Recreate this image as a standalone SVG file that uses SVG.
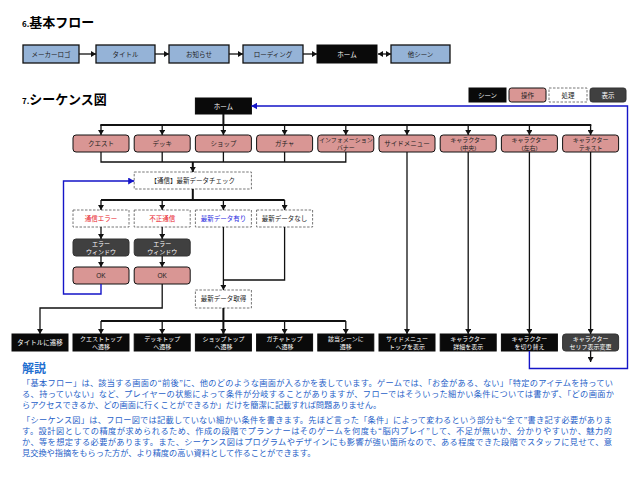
<svg xmlns="http://www.w3.org/2000/svg" width="638" height="479" viewBox="0 0 638 479">
<style>
text{font-family:"Noto Sans CJK JP","Noto Sans",sans-serif;}
.lbl,.wl{font-family:"Liberation Sans","Noto Sans CJK JP",sans-serif;font-size:6.5px;text-anchor:middle;}
.lbl{fill:#222;}
.wl{fill:#fff;}
.two{font-size:6px;}
.flow{fill:#95B3D7;stroke:#111;stroke-width:1.3;}
.scene{fill:#0a0a0a;stroke:#0a0a0a;stroke-width:1;}
.op{fill:#D99694;stroke:#111;stroke-width:1;}
.proc{fill:#fff;stroke:#666;stroke-width:0.9;stroke-dasharray:2.5,1.5;}
.disp{fill:#404040;stroke:#333;stroke-width:1;}
.ln{fill:none;stroke:#111;stroke-width:1.3;}
.thick{fill:none;stroke:#111;stroke-width:2;}
.blue{fill:none;stroke:#1515C8;stroke-width:1.4;}
.para{font-size:8.2px;fill:#1F5FC8;}
</style>
<defs>
<marker id="ah" markerUnits="userSpaceOnUse" markerWidth="6" markerHeight="6" refX="5" refY="3" orient="auto">
<path d="M0,0 L5,3 L0,6 Z" fill="#111"/>
</marker>
<marker id="ahs" markerUnits="userSpaceOnUse" markerWidth="6" markerHeight="6" refX="0" refY="3" orient="auto">
<path d="M5,0 L0,3 L5,6 Z" fill="#111"/>
</marker>
<marker id="ab" markerUnits="userSpaceOnUse" markerWidth="7" markerHeight="7" refX="6" refY="3.5" orient="auto">
<path d="M0,0 L6,3.5 L0,7 Z" fill="#1515C8"/>
</marker>
</defs>
<rect width="638" height="479" fill="#fff"/>

<!-- titles -->
<text x="22" y="27" font-size="13" font-weight="700" fill="#000"><tspan font-size="8">6.</tspan>基本フロー</text>
<text x="22" y="104" font-size="13" font-weight="700" fill="#000"><tspan font-size="8">7.</tspan>シーケンス図</text>

<!-- basic flow -->
<g id="flow-logo"><rect class="flow" x="23" y="45" width="56" height="18"/><text class="lbl" x="51" y="56.5">メーカーロゴ</text></g>
<g id="flow-title"><rect class="flow" x="96" y="45" width="59" height="18"/><text class="lbl" x="125.5" y="56.5">タイトル</text></g>
<g id="flow-news"><rect class="flow" x="169" y="45" width="60" height="18"/><text class="lbl" x="199" y="56.5">お知らせ</text></g>
<g id="flow-loading"><rect class="flow" x="243" y="45" width="60" height="18"/><text class="lbl" x="273" y="56.5">ローディング</text></g>
<g id="flow-home"><rect class="scene" x="317" y="45" width="60" height="18"/><text class="wl" x="347" y="56.5">ホーム</text></g>
<g id="flow-other"><rect class="flow" x="391" y="45" width="59" height="18"/><text class="lbl" x="420.5" y="56.5">他シーン</text></g>

<!-- legend -->
<g id="legend-scene"><rect class="scene" x="469" y="88" width="37" height="14"/><text class="wl" x="487.5" y="97.5">シーン</text></g>
<g id="legend-op"><rect class="op" x="509" y="88" width="37" height="14" rx="2.5"/><text class="lbl" x="527.5" y="97.5">操作</text></g>
<g id="legend-proc"><rect class="proc" x="549" y="88" width="38" height="14"/><text class="lbl" x="568" y="97.5">処理</text></g>
<g id="legend-disp"><rect class="disp" x="590" y="88" width="36" height="14" rx="2.5"/><text class="wl" x="608" y="97.5">表示</text></g>

<!-- sequence nodes -->
<g id="home"><rect class="scene" x="195.4" y="98" width="56" height="16"/><text class="wl" x="223.4" y="108.5">ホーム</text></g>

<g id="op-quest"><rect class="op" x="73" y="135" width="56" height="17" rx="3"/><text class="lbl" x="101" y="145.8">クエスト</text></g>
<g id="op-deck"><rect class="op" x="134.2" y="135" width="56" height="17" rx="3"/><text class="lbl" x="162.2" y="145.8">デッキ</text></g>
<g id="op-shop"><rect class="op" x="195.4" y="135" width="56" height="17" rx="3"/><text class="lbl" x="223.4" y="145.8">ショップ</text></g>
<g id="op-gacha"><rect class="op" x="256.6" y="135" width="56" height="17" rx="3"/><text class="lbl" x="284.6" y="145.8">ガチャ</text></g>
<g id="op-info"><rect class="op" x="317.8" y="135" width="56" height="17" rx="3"/><text class="lbl two" x="345.8" y="142.2">インフォメーション</text><text class="lbl two" x="345.8" y="149.6">バナー</text></g>
<g id="op-side"><rect class="op" x="379" y="135" width="56" height="17" rx="3"/><text class="lbl" x="407" y="145.8">サイドメニュー</text></g>
<g id="op-chara-c"><rect class="op" x="440.2" y="135" width="56" height="17" rx="3"/><text class="lbl two" x="468.2" y="142.2">キャラクター</text><text class="lbl two" x="468.2" y="149.6">(中央)</text></g>
<g id="op-chara-lr"><rect class="op" x="501.4" y="135" width="56" height="17" rx="3"/><text class="lbl two" x="529.4" y="142.2">キャラクター</text><text class="lbl two" x="529.4" y="149.6">(左右)</text></g>
<g id="op-chara-text"><rect class="op" x="562.6" y="135" width="56" height="17" rx="3"/><text class="lbl two" x="590.6" y="142.2">キャラクター</text><text class="lbl two" x="590.6" y="149.6">テキスト</text></g>

<g id="proc-check"><rect class="proc" x="134.2" y="172" width="117.2" height="17"/><text class="lbl" x="192.8" y="182.8">【通信】最新データチェック</text></g>

<g id="proc-err"><rect class="proc" x="73" y="210" width="56" height="17"/><text class="lbl" x="101" y="220.8" style="fill:#E8202A">通信エラー</text></g>
<g id="proc-illegal"><rect class="proc" x="134.2" y="210" width="56" height="17"/><text class="lbl" x="162.2" y="220.8" style="fill:#E8202A">不正通信</text></g>
<g id="proc-new"><rect class="proc" x="195.4" y="210" width="56" height="17"/><text class="lbl" x="223.4" y="220.8" style="fill:#2A2AE0">最新データ有り</text></g>
<g id="proc-nonew"><rect class="proc" x="256.6" y="210" width="56" height="17"/><text class="lbl" x="284.6" y="220.8">最新データなし</text></g>

<g id="disp-err1"><rect class="disp" x="73" y="239" width="56" height="17" rx="3"/><text class="wl two" x="101" y="246.2">エラー</text><text class="wl two" x="101" y="253.6">ウィンドウ</text></g>
<g id="disp-err2"><rect class="disp" x="134.2" y="239" width="56" height="17" rx="3"/><text class="wl two" x="162.2" y="246.2">エラー</text><text class="wl two" x="162.2" y="253.6">ウィンドウ</text></g>
<g id="op-ok1"><rect class="op" x="73" y="267" width="56" height="17" rx="3"/><text class="lbl" x="101" y="277.8">OK</text></g>
<g id="op-ok2"><rect class="op" x="134.2" y="267" width="56" height="17" rx="3"/><text class="lbl" x="162.2" y="277.8">OK</text></g>

<g id="proc-get"><rect class="proc" x="195.4" y="290" width="56" height="18"/><text class="lbl" x="223.4" y="301.3">最新データ取得</text></g>

<g id="scene-title"><rect class="scene" x="12" y="334" width="56" height="17"/><text class="wl" x="40" y="344.8">タイトルに遷移</text></g>
<g id="scene-quest"><rect class="scene" x="73" y="334" width="56" height="17"/><text class="wl two" x="101" y="341.2">クエストトップ</text><text class="wl two" x="101" y="348.6">へ遷移</text></g>
<g id="scene-deck"><rect class="scene" x="134.2" y="334" width="56" height="17"/><text class="wl two" x="162.2" y="341.2">デッキトップ</text><text class="wl two" x="162.2" y="348.6">へ遷移</text></g>
<g id="scene-shop"><rect class="scene" x="195.4" y="334" width="56" height="17"/><text class="wl two" x="223.4" y="341.2">ショップトップ</text><text class="wl two" x="223.4" y="348.6">へ遷移</text></g>
<g id="scene-gacha"><rect class="scene" x="256.6" y="334" width="56" height="17"/><text class="wl two" x="284.6" y="341.2">ガチャトップ</text><text class="wl two" x="284.6" y="348.6">へ遷移</text></g>
<g id="scene-target"><rect class="scene" x="317.8" y="334" width="56" height="17"/><text class="wl two" x="345.8" y="341.2">該当シーンに</text><text class="wl two" x="345.8" y="348.6">遷移</text></g>
<g id="scene-side"><rect class="scene" x="379" y="334" width="56" height="17"/><text class="wl two" x="407" y="341.2">サイドメニュー</text><text class="wl two" x="407" y="348.6">トップを表示</text></g>
<g id="scene-chara-detail"><rect class="scene" x="440.2" y="334" width="56" height="17"/><text class="wl two" x="468.2" y="341.2">キャラクター</text><text class="wl two" x="468.2" y="348.6">詳細を表示</text></g>
<g id="scene-chara-switch"><rect class="scene" x="501.4" y="334" width="56" height="17"/><text class="wl two" x="529.4" y="341.2">キャラクター</text><text class="wl two" x="529.4" y="348.6">を切り替え</text></g>
<g id="disp-serif"><rect class="disp" x="562.6" y="334" width="56" height="17" rx="3"/><text class="wl two" x="590.6" y="341.2">キャラクター</text><text class="wl two" x="590.6" y="348.6">セリフ表示変更</text></g>

<!-- connectors -->
<g id="connectors">
<line class="ln" x1="79" y1="54" x2="96" y2="54" marker-end="url(#ah)"/>
<line class="ln" x1="155" y1="54" x2="169" y2="54" marker-end="url(#ah)"/>
<line class="ln" x1="229" y1="54" x2="243" y2="54" marker-end="url(#ah)"/>
<line class="ln" x1="303" y1="54" x2="317" y2="54" marker-end="url(#ah)"/>
<line class="ln" x1="378" y1="54" x2="391" y2="54" marker-start="url(#ahs)" marker-end="url(#ah)"/>

<path class="thick" d="M223.4,114 V125 M100.3,125 H591.3"/>
<line class="ln" x1="101" y1="125" x2="101" y2="135" marker-end="url(#ah)"/>
<line class="ln" x1="162.2" y1="125" x2="162.2" y2="135" marker-end="url(#ah)"/>
<line class="ln" x1="223.4" y1="125" x2="223.4" y2="135" marker-end="url(#ah)"/>
<line class="ln" x1="284.6" y1="125" x2="284.6" y2="135" marker-end="url(#ah)"/>
<line class="ln" x1="345.8" y1="125" x2="345.8" y2="135" marker-end="url(#ah)"/>
<line class="ln" x1="407" y1="125" x2="407" y2="135" marker-end="url(#ah)"/>
<line class="ln" x1="468.2" y1="125" x2="468.2" y2="135" marker-end="url(#ah)"/>
<line class="ln" x1="529.4" y1="125" x2="529.4" y2="135" marker-end="url(#ah)"/>
<line class="ln" x1="590.6" y1="125" x2="590.6" y2="135" marker-end="url(#ah)"/>

<path class="ln" d="M101,152 V162 H345.8 V152 M162.2,152 V162 M223.4,152 V162 M284.6,152 V162"/>
<line class="thick" x1="192.8" y1="162" x2="192.8" y2="172" marker-end="url(#ah)"/>

<path class="thick" d="M192.8,189 V200 M101,200 H284.6"/>
<line class="ln" x1="101" y1="200" x2="101" y2="210" marker-end="url(#ah)"/>
<line class="ln" x1="162.2" y1="200" x2="162.2" y2="210" marker-end="url(#ah)"/>
<line class="ln" x1="223.4" y1="200" x2="223.4" y2="210" marker-end="url(#ah)"/>
<line class="ln" x1="284.6" y1="200" x2="284.6" y2="210" marker-end="url(#ah)"/>

<line class="ln" x1="101" y1="227" x2="101" y2="239" marker-end="url(#ah)"/>
<line class="ln" x1="162.2" y1="227" x2="162.2" y2="239" marker-end="url(#ah)"/>
<line class="ln" x1="101" y1="256" x2="101" y2="267" marker-end="url(#ah)"/>
<line class="ln" x1="162.2" y1="256" x2="162.2" y2="267" marker-end="url(#ah)"/>

<path class="blue" d="M101,284 V294 H63.5 V181 H134.2" marker-end="url(#ab)"/>
<path class="ln" d="M162.2,284 V308 H40 V334" marker-end="url(#ah)"/>

<path class="ln" d="M284.6,227 V280 H223.4"/>
<line class="ln" x1="223.4" y1="227" x2="223.4" y2="290" marker-end="url(#ah)"/>
<path class="thick" d="M223.4,308 V321 M101,321 H345.8"/>
<line class="ln" x1="101" y1="321" x2="101" y2="334" marker-end="url(#ah)"/>
<line class="ln" x1="162.2" y1="321" x2="162.2" y2="334" marker-end="url(#ah)"/>
<line class="thick" x1="223.4" y1="321" x2="223.4" y2="334" marker-end="url(#ah)"/>
<line class="ln" x1="284.6" y1="321" x2="284.6" y2="334" marker-end="url(#ah)"/>
<line class="ln" x1="345.8" y1="321" x2="345.8" y2="334" marker-end="url(#ah)"/>

<line class="ln" x1="407" y1="152" x2="407" y2="334" marker-end="url(#ah)"/>
<line class="ln" x1="468.2" y1="152" x2="468.2" y2="334" marker-end="url(#ah)"/>
<line class="ln" x1="529.4" y1="152" x2="529.4" y2="334" marker-end="url(#ah)"/>
<line class="ln" x1="590.6" y1="152" x2="590.6" y2="334" marker-end="url(#ah)"/>

<path class="blue" d="M529.4,351 V368.5 H627.5 V106 H251.4" marker-end="url(#ab)"/>
<line class="ln" x1="590.6" y1="351" x2="590.6" y2="362" marker-end="url(#ah)"/>
</g>

<!-- explanation -->
<text x="22" y="373" font-size="12" font-weight="700" fill="#1F6FD0">解説</text>
<text class="para" x="22" y="386" textLength="591" lengthAdjust="spacing">「基本フロー」は、該当する画面の“前後”に、他のどのような画面が入るかを表しています。ゲームでは、「お金がある、ない」「特定のアイテムを持ってい</text>
<text class="para" x="22" y="397" textLength="592" lengthAdjust="spacing">る、持っていない」など、プレイヤーの状態によって条件が分岐することがありますが、フローではそういった細かい条件については書かず、「どの画面か</text>
<text class="para" x="22" y="408">らアクセスできるか、どの画面に行くことができるか」だけを簡潔に記載すれば問題ありません。</text>
<text class="para" x="22" y="423" textLength="590" lengthAdjust="spacing">「シーケンス図」は、フロー図では記載していない細かい条件を書きます。先ほど言った「条件」によって変わるという部分も“全て”書き記す必要がありま</text>
<text class="para" x="22" y="434" textLength="590" lengthAdjust="spacing">す。設計図としての精度が求められるため、作成の段階でプランナーはそのゲームを何度も“脳内プレイ”して、不足が無いか、分かりやすいか、魅力的</text>
<text class="para" x="22" y="445" textLength="590" lengthAdjust="spacing">か、等を想定する必要があります。また、シーケンス図はプログラムやデザインにも影響が強い箇所なので、ある程度できた段階でスタッフに見せて、意</text>
<text class="para" x="22" y="456">見交換や指摘をもらった方が、より精度の高い資料として作ることができます。</text>
</svg>
